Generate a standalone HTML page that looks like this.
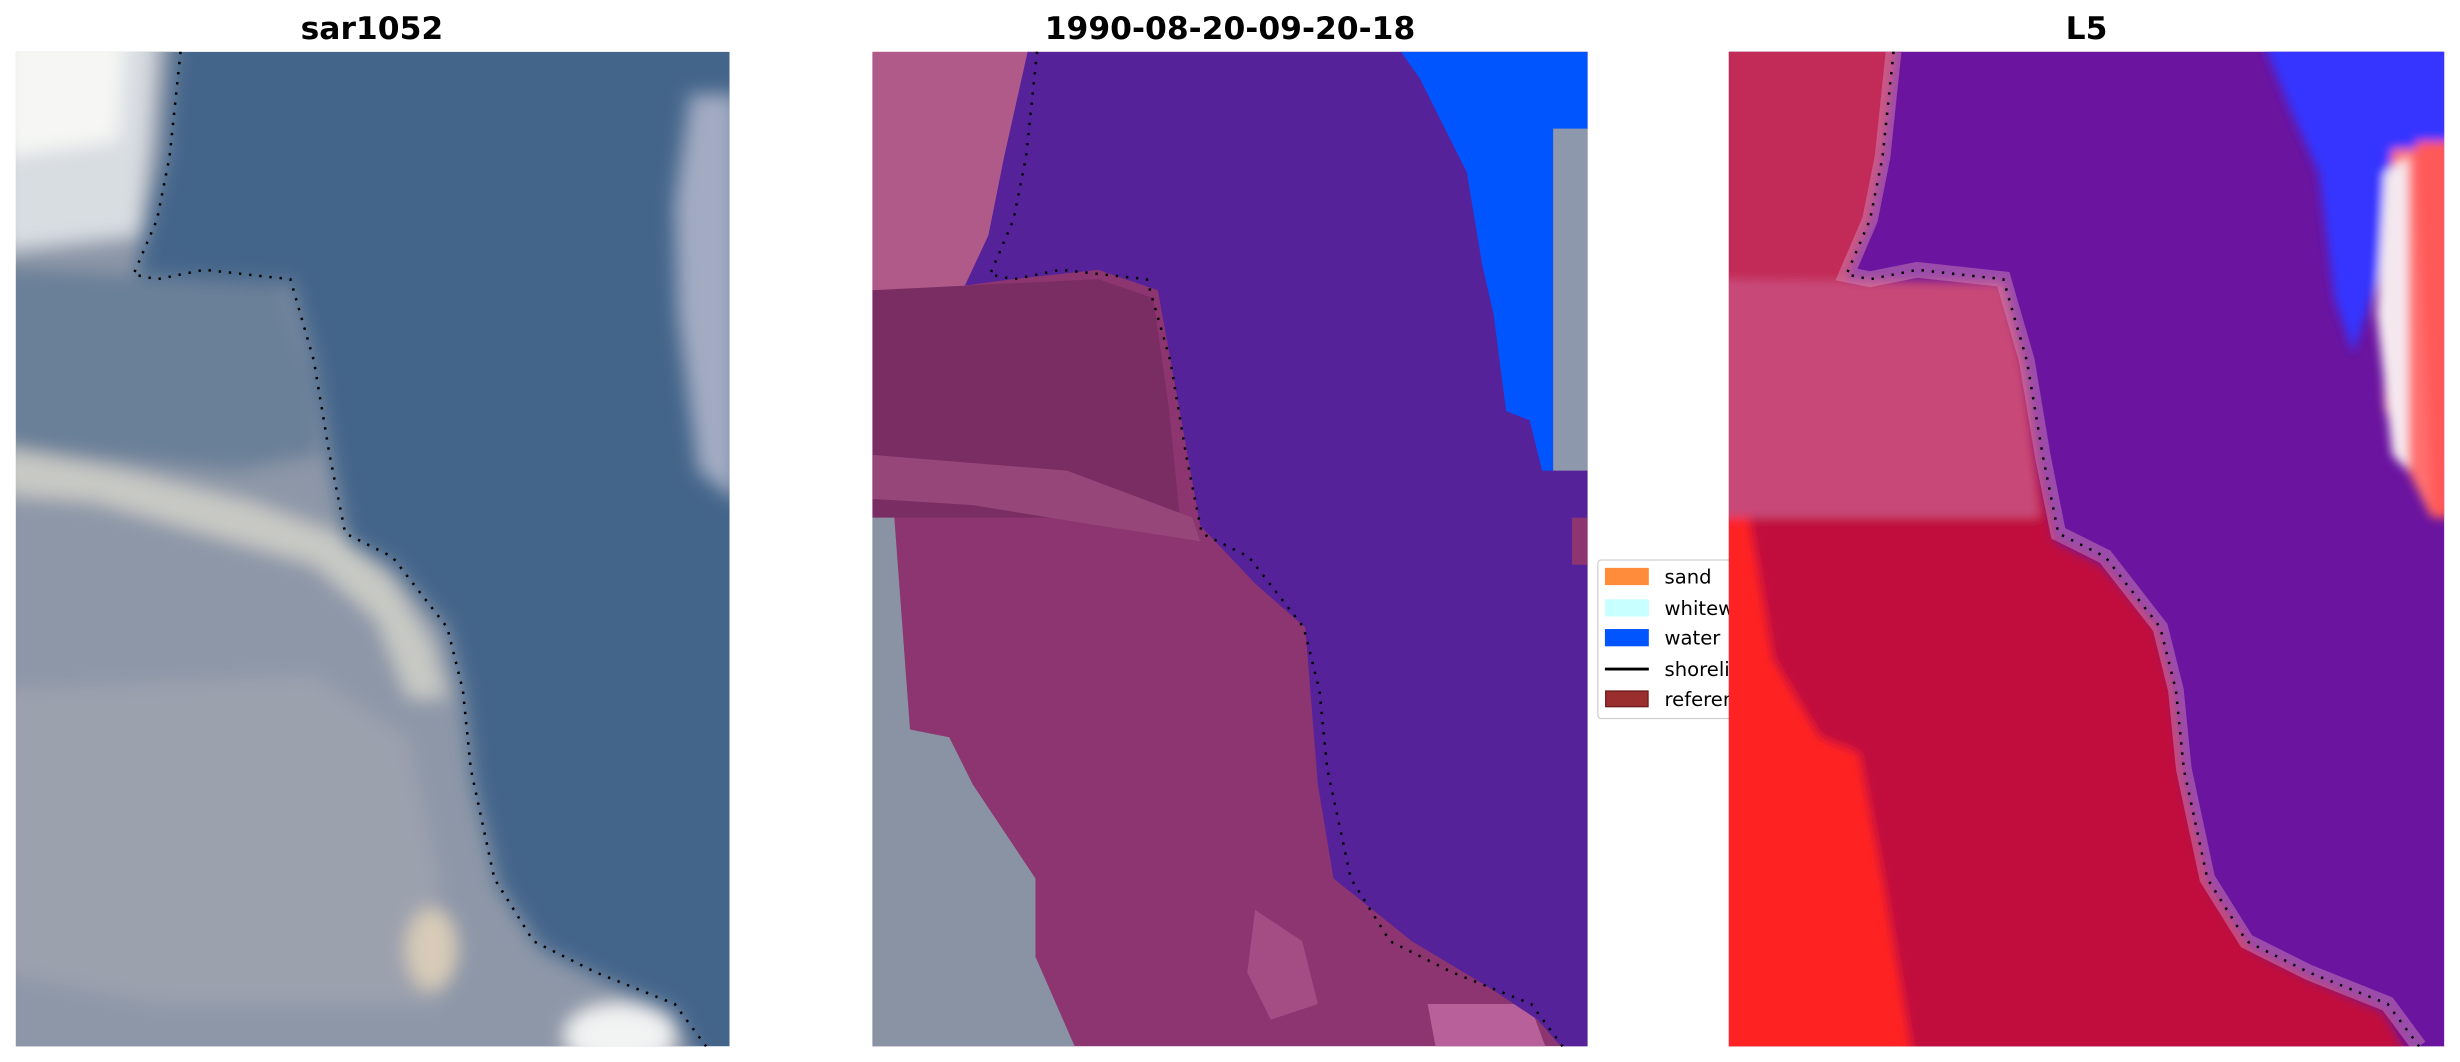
<!DOCTYPE html>
<html><head><meta charset="utf-8"><style>
html,body{margin:0;padding:0;background:#fff;}
svg{display:block;}
</style></head><body>
<svg width="2460" height="1062" viewBox="0 0 1568 677" xmlns="http://www.w3.org/2000/svg">
<defs>
<clipPath id="c1"><rect x="10" y="33" width="455" height="634"/></clipPath>
<clipPath id="c2"><rect x="556" y="33" width="456" height="634"/></clipPath>
<clipPath id="c3"><rect x="1102" y="33" width="456" height="634"/></clipPath>
<filter id="b" x="-10%" y="-10%" width="120%" height="120%"><feGaussianBlur stdDeviation="6"/></filter>
<filter id="b2" x="-10%" y="-10%" width="120%" height="120%"><feGaussianBlur stdDeviation="3"/></filter>
</defs>
<rect width="1568" height="677" fill="#fff"/>
<g font-family="'DejaVu Sans','Liberation Sans',sans-serif" font-weight="bold" font-size="20" text-anchor="middle" fill="#000">
<text x="237" y="25">sar1052</text>
<text x="784" y="25">1990-08-20-09-20-18</text>
<text x="1330" y="25">L5</text>
</g>

<!-- Panel 1 -->
<g clip-path="url(#c1)">
<rect x="10" y="33" width="455" height="634" fill="#44658a"/>
<g filter="url(#b)">
<polygon points="0,20 112,20 105,100 95,140 85,180 185,180 200,230 212,300 222,345 250,360 285,400 295,440 302,500 318,565 345,605 385,625 430,645 452,690 0,690" fill="#8d97a8"/>
<polygon points="0,170 180,180 200,240 205,290 150,300 0,285" fill="#6a8098"/>
<polygon points="0,20 100,20 95,90 88,150 0,160" fill="#d8dde2"/>
<polygon points="0,20 80,20 75,90 0,100" fill="#f6f7f4"/>
<polygon points="0,285 80,300 160,320 215,340 250,370 275,410 285,445 260,445 240,395 200,360 130,340 60,320 0,315" fill="#c8c9c4"/>
<polygon points="0,440 200,430 260,470 280,560 280,640 100,640 0,620" fill="#9ca1ae"/>
<ellipse cx="275" cy="605" rx="16" ry="26" fill="#d8ccb8"/>
<ellipse cx="395" cy="660" rx="35" ry="20" fill="#f2f3f3"/>
<polygon points="440,60 470,60 470,320 445,300 432,200 430,130" fill="#a2abc2"/>
</g>
</g>
<path d="M115,33 L108,100 L100,140 L85,175 L100,178 L130,172 L185,178 L200,230 L210,290 L220,340 L250,355 L285,400 L295,440 L300,490 L315,560 L340,600 L380,620 L430,640 L450,667" fill="none" stroke="#000" stroke-width="1.6" stroke-dasharray="1.5,5"/>

<!-- Panel 2 -->
<g clip-path="url(#c2)">
<rect x="556" y="33" width="456" height="634" fill="#8c3570"/>
<polygon points="556,33 660,33 645,100 630,150 615,185 556,185" fill="#b05a8a"/>
<polygon points="556,185 700,178 735,190 745,260 752,330 556,330" fill="#7a2d62"/>
<polygon points="556,290 680,300 760,330 765,345 700,335 620,322 556,318" fill="#97467a"/>
<polygon points="556,330 570,330 580,465 605,470 620,500 660,560 660,610 685,667 556,667" fill="#8a93a4"/>
<polygon points="800,580 830,600 840,640 810,650 795,620" fill="#a44d85"/>
<polygon points="910,640 975,640 985,667 915,667" fill="#b8609a"/>
<polygon points="655,33 893,33 1012,33 1012,667 995,667 980,650 950,630 900,600 850,560 840,500 832,400 800,372 765,335 748,240 738,185 700,172 645,178 615,182 630,150 640,100" fill="#56229a"/>
<polygon points="893,33 1012,33 1012,82 990,90 990,300 983,300 975,268 960,262 952,200 945,170 935,110 920,80 905,50" fill="#0055ff"/>
<polygon points="990,82 1012,82 1012,300 990,300" fill="#8e98ac"/>
<rect x="1002" y="330" width="10" height="30" fill="#8c3570"/>
</g>
<path d="M661,33 L654,100 L646,140 L631,175 L646,178 L676,172 L731,178 L746,230 L756,290 L766,340 L796,355 L831,400 L841,440 L846,490 L861,560 L886,600 L926,620 L976,640 L996,667" fill="none" stroke="#000" stroke-width="1.6" stroke-dasharray="1.5,5"/>

<!-- Legend (under panel 3) -->
<g>
<rect x="1018.5" y="357" width="110" height="101" rx="2" fill="#fff" stroke="#d0d0d0" stroke-width="0.8"/>
<rect x="1023" y="362" width="28" height="11" fill="#ff8c3a"/>
<rect x="1023" y="382" width="28" height="11" fill="#c8ffff"/>
<rect x="1023" y="401" width="28" height="11" fill="#0055ff"/>
<line x1="1023" y1="426.5" x2="1051" y2="426.5" stroke="#000" stroke-width="1.8"/>
<rect x="1023.5" y="440.5" width="27" height="10" fill="#9a2d2d" stroke="#6a1a1a" stroke-width="0.8"/>
<g font-family="'DejaVu Sans','Liberation Sans',sans-serif" font-size="12.5" fill="#000">
<text x="1061" y="372">sand</text>
<text x="1061" y="392">whitewater</text>
<text x="1061" y="411">water</text>
<text x="1061" y="431">shoreline</text>
<text x="1061" y="450">reference</text>
</g>
</g>

<!-- Panel 3 -->
<g clip-path="url(#c3)">
<rect x="1090" y="20" width="480" height="670" fill="#6a14a0"/>
<g filter="url(#b2)">
<polygon points="1090,20 1210,20 1200,100 1192,140 1177,178 1277,180 1290,230 1300,300 1310,345 1340,360 1375,400 1385,440 1392,500 1408,565 1435,605 1475,625 1520,645 1545,690 1090,690" fill="#c0103c"/>
<polygon points="1090,20 1210,20 1200,100 1192,140 1177,178 1090,178" fill="#c22a58"/>
<polygon points="1090,178 1277,180 1290,240 1300,330 1090,330" fill="#c84878"/>
<polygon points="1090,330 1115,330 1130,420 1160,470 1185,480 1200,560 1222,690 1090,690" fill="#ff2222"/>
<polygon points="1440,20 1570,20 1570,90 1530,100 1515,180 1500,225 1488,190 1478,110 1460,70" fill="#3535ff"/>
<polygon points="1525,95 1570,95 1570,330 1550,330 1535,300 1520,260 1518,160" fill="#ff7070"/>
<polygon points="1520,110 1535,100 1535,300 1525,290 1515,200" fill="#f4e8ee"/>
<polygon points="1540,90 1570,90 1570,330 1550,330" fill="#ff5858"/>
</g>
<path d="M1207,33 L1200,100 L1192,140 L1177,175 L1192,178 L1222,172 L1277,178 L1292,230 L1302,290 L1312,340 L1342,355 L1377,400 L1387,440 L1392,490 L1407,560 L1432,600 L1472,620 L1522,640 L1542,667" fill="none" stroke="#d890b8" stroke-opacity="0.45" stroke-width="10"/>
</g>
<path d="M1207,33 L1200,100 L1192,140 L1177,175 L1192,178 L1222,172 L1277,178 L1292,230 L1302,290 L1312,340 L1342,355 L1377,400 L1387,440 L1392,490 L1407,560 L1432,600 L1472,620 L1522,640 L1542,667" fill="none" stroke="#000" stroke-width="1.6" stroke-dasharray="1.5,5"/>
</svg>
</body></html>
